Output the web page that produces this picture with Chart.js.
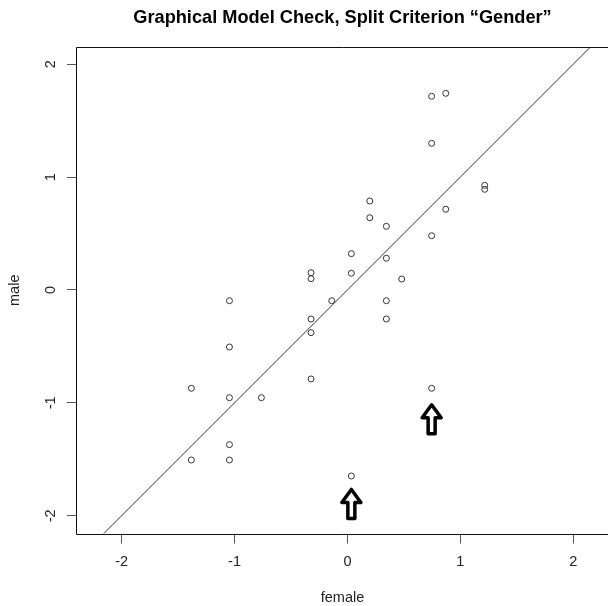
<!DOCTYPE html>
<html>
<head>
<meta charset="utf-8">
<script src="https://cdn.jsdelivr.net/npm/chart.js@4"></script>
<style>
  html, body { margin: 0; padding: 0; background: #fff; overflow: hidden; }
</style>
</head>
<body>
<canvas id="myChart" width="608" height="606"></canvas>
<script>
// item parameters estimated in the two groups
var female = [0.746, 0.871, 0.746, 1.216, 1.216, 0.871, 0.746, 0.198, 0.198, 0.345,
              0.035, 0.345, 0.035, 0.481, 0.345, 0.345, -0.322, -0.322, -0.139, -0.322,
              -0.322, -0.322, -1.045, -1.045, -1.045, -0.762, -1.382, -1.045, -1.045, -1.382,
              0.746, 0.035];
var male = [1.716, 1.742, 1.299, 0.927, 0.892, 0.715, 0.481, 0.788, 0.640, 0.564,
            0.322, 0.281, 0.148, 0.097, -0.095, -0.257, 0.153, 0.100, -0.095, -0.257,
            -0.378, -0.788, -0.095, -0.505, -0.954, -0.954, -0.871, -1.370, -1.506, -1.506,
            -0.871, -1.648];

// identity line
var lineX = [-3, 3];
var lineY = [-3, 3];

// marked items (arrow tips)
var arrowX = [0.035, 0.746];
var arrowY = [-1.767, -1.017];

var tickValues = [-2, -1, 0, 1, 2];

var puntos = [];
for (var i = 0; i < female.length; i++) {
    puntos.push({x: female[i], y: male[i]});
}
var linea = [];
for (var j = 0; j < lineX.length; j++) {
    linea.push({x: lineX[j], y: lineY[j]});
}

var marco = {
    id: 'marco',
    afterDatasetsDraw: function(chart) {
        var ctx = chart.ctx;
        var a = chart.chartArea;
        var l = Math.round(a.left) - 0.5, t = Math.round(a.top) + 0.5, b = Math.round(a.bottom) + 0.5;
        ctx.save();
        ctx.strokeStyle = '#111';
        ctx.lineWidth = 1;
        // caja abierta por la derecha (recortada en la imagen)
        ctx.beginPath();
        ctx.moveTo(a.right + 2, t);
        ctx.lineTo(l, t);
        ctx.lineTo(l, b);
        ctx.lineTo(a.right + 2, b);
        ctx.stroke();

        // flechas
        var sx = chart.scales.x, sy = chart.scales.y;
        ctx.lineWidth = 3.5;
        ctx.lineJoin = 'round';
        ctx.strokeStyle = '#000';
        ctx.fillStyle = '#fff';
        for (var k = 0; k < arrowX.length; k++) {
            var px = sx.getPixelForValue(arrowX[k]);
            var py = sy.getPixelForValue(arrowY[k]);
            ctx.beginPath();
            ctx.moveTo(px, py);
            ctx.lineTo(px + 9.5, py + 13);
            ctx.lineTo(px + 3.5, py + 13);
            ctx.lineTo(px + 3.5, py + 29);
            ctx.lineTo(px - 3.5, py + 29);
            ctx.lineTo(px - 3.5, py + 13);
            ctx.lineTo(px - 9.5, py + 13);
            ctx.closePath();
            ctx.fill();
            ctx.stroke();
        }
        ctx.restore();
    }
};

var fuente = 'Liberation Sans, Arial, sans-serif';

var ctx = document.getElementById('myChart');
var chart = new Chart(ctx, {
    type: 'scatter',
    data: {
        datasets: [{
            data: puntos,
            pointStyle: 'circle',
            pointRadius: 3,
            pointBorderWidth: 1,
            pointBorderColor: '#333',
            pointBackgroundColor: 'rgba(255,255,255,0)',
            showLine: false
        }, {
            data: linea,
            type: 'line',
            borderColor: '#333',
            borderWidth: 1,
            pointRadius: 0,
            fill: false
        }]
    },
    plugins: [marco],
    options: {
        responsive: false,
        animation: false,
        events: [],
        layout: { padding: 0, autoPadding: false },
        plugins: {
            legend: { display: false },
            tooltip: { enabled: false },
            title: {
                display: true,
                text: 'Graphical Model Check, Split Criterion \u201cGender\u201d',
                fullSize: false,
                color: '#000',
                font: { family: fuente, size: 18.2, weight: 'bold' },
                padding: { top: 7, bottom: 18.2 }
            }
        },
        scales: {
            x: {
                type: 'linear',
                min: -2.395,
                max: 2.308,
                afterFit: function(s) { s.height = 72.5; },
                afterBuildTicks: function(s) { s.ticks = tickValues.map(function(v) { return {value: v}; }); },
                grid: { drawOnChartArea: false, drawTicks: true, tickLength: 10, color: '#555' },
                border: { display: false },
                ticks: {
                    color: '#222',
                    padding: 10,
                    font: { family: fuente, size: 14.5 }
                },
                title: {
                    display: true,
                    text: 'female',
                    color: '#222',
                    padding: { top: 0, bottom: -1 },
                    font: { family: fuente, size: 14.5 }
                }
            },
            y: {
                type: 'linear',
                min: -2.157,
                max: 2.152,
                afterFit: function(s) { s.width = 77; },
                afterBuildTicks: function(s) { s.ticks = tickValues.map(function(v) { return {value: v}; }); },
                grid: { drawOnChartArea: false, drawTicks: true, tickLength: 10, color: '#555' },
                border: { display: false },
                ticks: {
                    color: '#222',
                    padding: 10,
                    minRotation: 90,
                    maxRotation: 90,
                    crossAlign: 'center',
                    font: { family: fuente, size: 14.5 }
                },
                title: {
                    display: true,
                    text: 'male',
                    color: '#222',
                    padding: { top: 6, bottom: 0 },
                    font: { family: fuente, size: 14.5 }
                }
            }
        }
    }
});
</script>
</body>
</html>
